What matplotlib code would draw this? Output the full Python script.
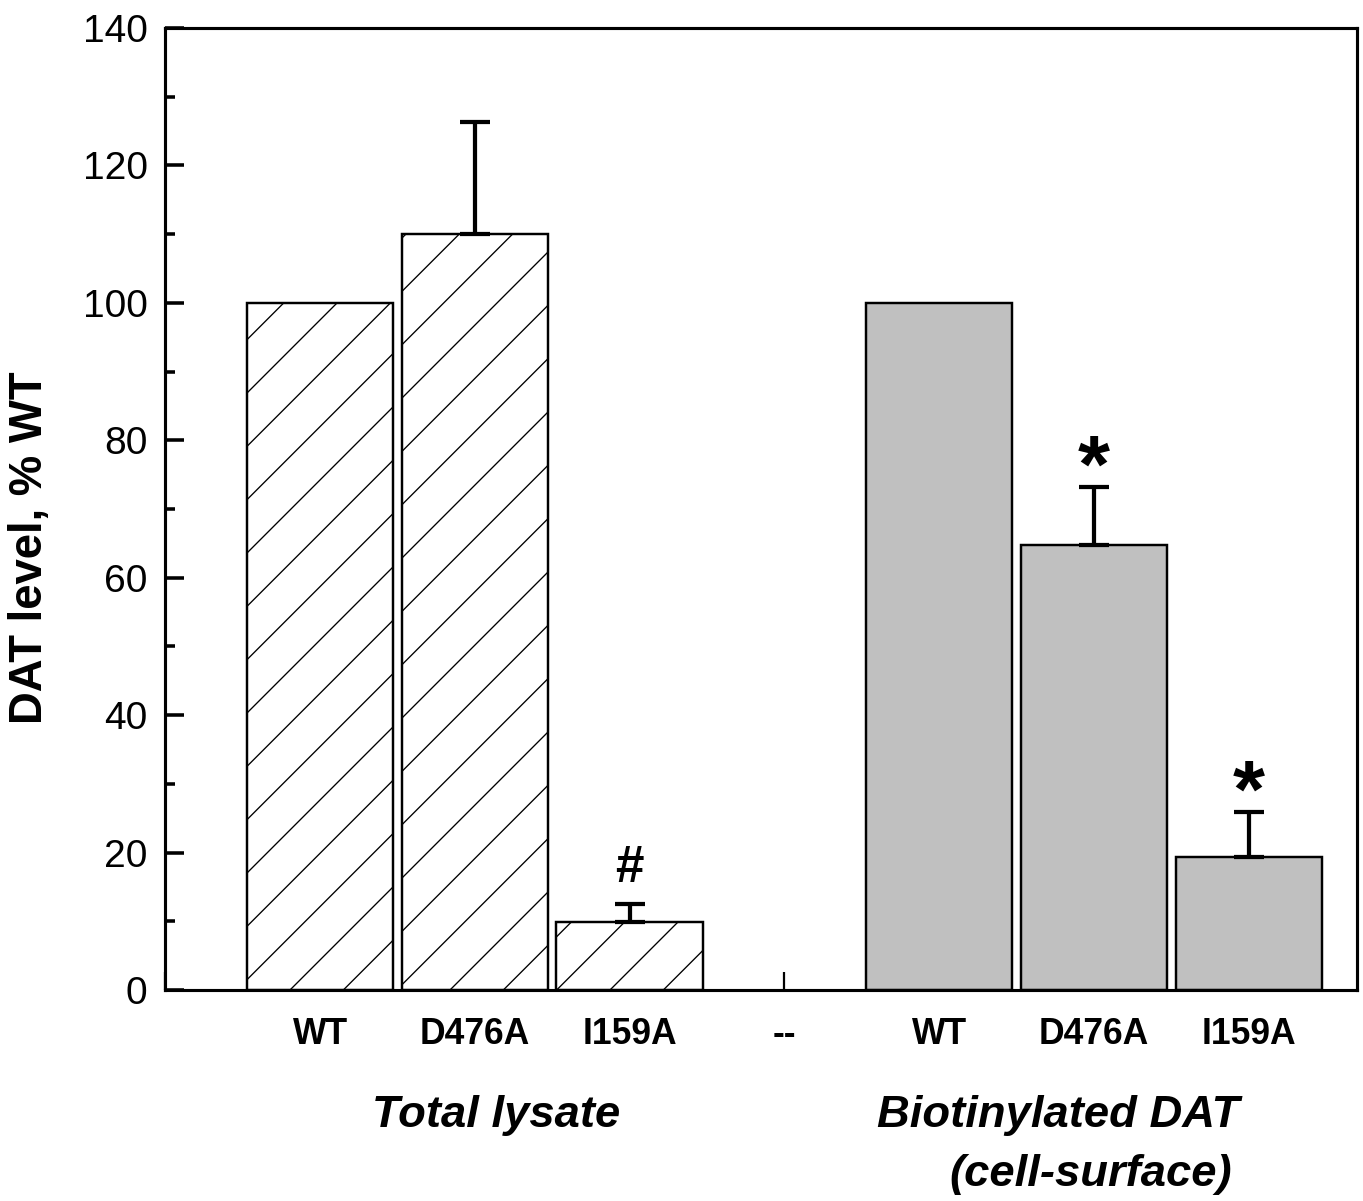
import numpy as np
import matplotlib
matplotlib.use('Agg')
import matplotlib.pyplot as plt
from matplotlib.ticker import MultipleLocator

plt.rcParams['font.family'] = ['Liberation Sans', 'DejaVu Sans']
plt.rcParams['hatch.linewidth'] = 0.6

# datos
etiquetas = ['', 'WT', 'D476A', 'I159A', '--', 'WT', 'D476A', 'I159A']
lisado = [100, 110, 9.9]
lisado_err = [0, 16.3, 2.6]
superficie = [100, 64.8, 19.4]
superficie_err = [0, 8.4, 6.5]
marcas = ['', '', '#', '', '', '*', '*']   # por posicion 1..7

pos_lisado = np.array([1, 2, 3])
pos_superficie = np.array([5, 6, 7])

fig = plt.figure(figsize=(1363/160, 1201/160), dpi=160)
ax = fig.add_axes([0.1213, 0.1757, 0.8743, 0.801])

ax.bar(pos_lisado, lisado, width=0.945, color='white', edgecolor='black',
       linewidth=1.1, hatch='/', zorder=2)
ax.bar(pos_superficie, superficie, width=0.945, color='#c0c0c0',
       edgecolor='black', linewidth=1.1, zorder=2)

# barras de error (solo hacia arriba)
for pos, val, err in [(pos_lisado, lisado, lisado_err),
                      (pos_superficie, superficie, superficie_err)]:
    for p, v, e in zip(pos, val, err):
        if e > 0:
            ax.errorbar(p, v, yerr=[[0], [e]], fmt='none', ecolor='black',
                        elinewidth=1.9, capsize=6.8, capthick=1.9, zorder=3)

# simbolos de significancia
todos = lisado + [0] + superficie
todos_err = lisado_err + [0] + superficie_err
for i, m in enumerate(marcas):
    if m == '#':
        ax.text(i + 1, todos[i] + todos_err[i] + 1.6, m, ha='center',
                va='bottom', fontsize=23, fontweight='bold')
    elif m == '*':
        ax.text(i + 1, todos[i] + todos_err[i] - 3.2, m, ha='center',
                va='bottom', fontsize=37, fontweight='bold')

ax.set_xlim(0, 7.7)
ax.set_ylim(0, 140)
ax.set_xticks(range(8))
ax.set_xticklabels(etiquetas, fontsize=16, fontweight='bold')
ax.yaxis.set_major_locator(MultipleLocator(20))
ax.yaxis.set_minor_locator(MultipleLocator(10))
ax.tick_params(axis='y', which='major', direction='in', length=8.5,
               width=1.6, labelsize=17.5, pad=8)
ax.tick_params(axis='y', which='minor', direction='in', length=4.5, width=1.6)
ax.tick_params(axis='x', direction='in', length=8, width=1.0, pad=12)
for s in ax.spines.values():
    s.set_linewidth(1.4)

ax.set_ylabel('DAT level, % WT', fontsize=20.5, fontweight='bold')
ax.yaxis.set_label_coords(-0.095, 0.46)

tr = ax.get_xaxis_transform()
ax.text(2.14, -0.13, 'Total lysate', transform=tr, ha='center', va='center',
        fontsize=20.4, fontweight='bold', style='italic')
ax.text(5.77, -0.13, 'Biotinylated DAT', transform=tr, ha='center',
        va='center', fontsize=20.4, fontweight='bold', style='italic')
ax.text(5.98, -0.192, '(cell-surface)', transform=tr, ha='center',
        va='center', fontsize=20.4, fontweight='bold', style='italic')

plt.savefig('out.png', dpi=160)
